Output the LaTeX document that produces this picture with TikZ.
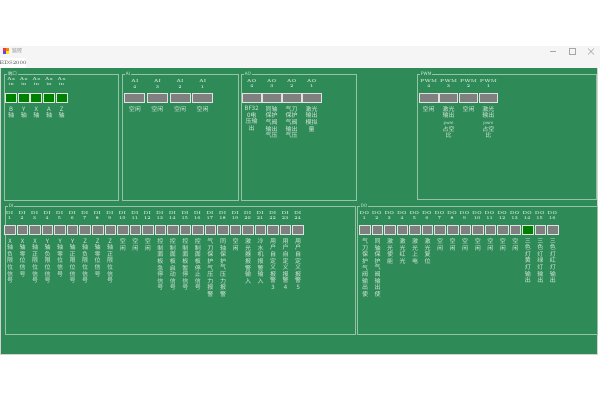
\documentclass[tikz,border=0pt]{standalone}
\usepackage{fontspec}
\newfontfamily\cjk{Noto Sans CJK SC}
\definecolor{panel}{RGB}{46,139,87}
\definecolor{frame}{RGB}{150,195,165}
\definecolor{ink}{RGB}{218,232,222}
\definecolor{lamp}{RGB}{0,128,0}
\definecolor{slot}{RGB}{128,128,128}
\definecolor{rim}{RGB}{225,225,225}
% one character per line
\def\vstack#1{\expandafter\vstackA#1\relax}
\def\vstackA#1#2\relax{#1\vstackB#2\relax}
\def\vstackB#1{\ifx\relax#1\else\\#1\expandafter\vstackB\fi}
\tikzset{
  groupframe/.style={draw=frame, line width=0.8pt},
  grouptitle/.style={fill=panel, text=ink, inner sep=0.6pt, anchor=west,
    font=\cjk\fontsize{4.6}{5}\selectfont},
  tag/.style={text=ink, align=center, inner sep=0pt,
    font=\bfseries\fontsize{4.3}{5.4}\selectfont},
  slotbox/.style={draw=rim, line width=0.9pt, fill=slot, minimum width=10.5pt,
    minimum height=8.5pt, inner sep=0pt},
  lampbox/.style={slotbox, fill=lamp},
  note/.style={text=ink, align=center, inner sep=0pt, anchor=north,
    font=\cjk\fontsize{6}{6.6}\selectfont},
}
\begin{document}
\begin{tikzpicture}[x=1pt,y=-1pt]
    \useasboundingbox (0,0) rectangle (600,400);
    \fill[white] (0,0) rectangle (600,400);
    % window title and tab
    \fill[gray!8] (0,46) rectangle (600,68);
    \fill[red!80] (3,48) rectangle (6,51);
    \fill[orange] (6,48) rectangle (9,51);
    \fill[blue!70] (3,51) rectangle (6,54);
    \fill[yellow!90!orange] (6,51) rectangle (9,54);
    \node[anchor=west, text=gray, inner sep=0pt, font=\cjk\fontsize{5}{5}\selectfont] (wintitle) at (12,51) {监控};
    \draw[gray!70, line width=0.5pt] (550,51) -- (556,51);
    \draw[gray!70, line width=0.5pt] (569,48.5) rectangle (575,54.5);
    \draw[gray!70, line width=0.5pt] (588,48.5) -- (594,54.5) (588,54.5) -- (594,48.5);
    \fill[white] (0,57.5) rectangle (26,68);
    \node[text=black!75, inner sep=0pt, font=\fontsize{5}{5}\selectfont] (tab) at (13,63) {EDS2000};
    % green panel
    \fill[panel] (0,68) rectangle (598,354);
    \draw[gray!35, line width=0.8pt] (0.4,68) -- (0.4,354) -- (597.6,354) -- (597.6,68);

    % port
    \draw[groupframe] (4,74) rectangle (118,200);
    \node[grouptitle] (porttitle) at (7,74) {端口};
    \foreach \i/\ax in {1/B,2/Y,3/X,4/A,5/Z} {
        \node[tag] (porttag\i) at ({11.2+12.6*(\i-1)},81.5) {Ax\\in};
        \node[lampbox, minimum width=11pt, minimum height=9pt] (portbox\i) at ({11.2+12.6*(\i-1)},98) {};
        \node[note] (portnote\i) at ({11.2+12.6*(\i-1)},106.5) {\ax\\轴};
    }

    % AI
    \draw[groupframe] (122,74) rectangle (238,200);
    \node[grouptitle] (aititle) at (125,74) {AI};
    \foreach \k in {0,...,3} {
        \pgfmathtruncatemacro\n{4-\k}
        \node[tag] (aitag\n) at ({134.8+22.6*\k},84) {AI\\\n};
        \node[slotbox, minimum width=20pt] (aibox\n) at ({134.8+22.6*\k},98) {};
        \node[note] (ainote\n) at ({134.8+22.6*\k},106) {空闲};
    }

    % AO
    \draw[groupframe] (241,74) rectangle (356,200);
    \node[grouptitle] (aotitle) at (244,74) {AO};
    \foreach \k/\lbl in {0/{BF32\\0电\\压输\\出}, 1/{同轴\\保护\\气阀\\输出\\气压},
                        2/{气刀\\保护\\气阀\\输出\\气压}, 3/{激光\\输出\\模拟\\量}} {
        \pgfmathtruncatemacro\n{4-\k}
        \node[tag] (aotag\n) at ({251.7+20*\k},83.5) {AO\\\n};
        \node[slotbox, minimum width=18.5pt] (aobox\n) at ({251.7+20*\k},98) {};
        \node[note] (aonote\n) at ({251.7+20*\k},106) {\lbl};
    }

    % PWM
    \draw[groupframe] (417,74) rectangle (596,199);
    \node[grouptitle] (pwmtitle) at (420,74) {PWM};
    \foreach \k/\lbl in {0/{空闲}, 1/{激光\\输出\\{\fontsize{4.2}{6.6}\selectfont pwm}\\占空\\比},
                        2/{空闲}, 3/{激光\\输出\\{\fontsize{4.2}{6.6}\selectfont pwm}\\占空\\比}} {
        \pgfmathtruncatemacro\n{4-\k}
        \node[tag] (pwmtag\n) at ({428.7+19.9*\k},83.5) {PWM\\\n};
        \node[slotbox, minimum width=18.5pt] (pwmbox\n) at ({428.7+19.9*\k},98) {};
        \node[note] (pwmnote\n) at ({428.7+19.9*\k},106) {\lbl};
    }

    % DI
    \draw[groupframe] (5,206) rectangle (355,334);
    \node[grouptitle] (dititle) at (8,206) {DI};
    \foreach \i/\lbl in {1/X轴负限位信号, 2/X轴零位信号, 3/X轴正限位信号,
                         4/Y轴负限位信号, 5/Y轴零位信号, 6/Y轴正限位信号,
                         7/Z轴负限位信号, 8/Z轴零位信号, 9/Z轴正限位信号,
                         10/空闲, 11/空闲, 12/空闲,
                         13/控制面板急停信号, 14/控制面板启动信号, 15/控制面板暂停信号,
                         16/控制面板停止信号, 17/气刀保护气压力报警, 18/同轴保护气压力报警,
                         19/空闲, 20/激光器报警输入, 21/冷水机报警输入,
                         22/用户自定义报警3, 23/用户自定义报警4, 24/用户自定义报警5} {
        \node[tag] (ditag\i) at ({9.5+12.53*(\i-1)},215.5) {DI\\\i};
        \node[slotbox] (dibox\i) at ({10+12.53*(\i-1)},230) {};
        \node[note] (dinote\i) at ({10+12.53*(\i-1)},238.5) {\vstack{\lbl}};
    }

    % DO
    \draw[groupframe] (357,206) rectangle (597,334);
    \node[grouptitle] (dotitle) at (360,206) {DO};
    \foreach \i/\lbl in {1/气刀保护气阀输出使, 2/同轴保护气阀输出使, 3/激光使能,
                         4/激光红光, 5/激光上电, 6/激光复位,
                         7/空闲, 8/空闲, 9/空闲, 10/空闲, 11/空闲, 12/空闲, 13/空闲,
                         14/三色灯黄灯输出, 15/三色灯绿灯输出, 16/三色灯红灯输出} {
        \ifnum\i=14 \def\boxfill{lamp}\else\def\boxfill{slot}\fi
        \node[tag] (dotag\i) at ({364.3+12.53*(\i-1)},215.5) {DO\\\i};
        \node[slotbox, fill=\boxfill] (dobox\i) at ({365+12.53*(\i-1)},230) {};
        \node[note] (donote\i) at ({365+12.53*(\i-1)},238.5) {\vstack{\lbl}};
    }
\end{tikzpicture}
\end{document}
